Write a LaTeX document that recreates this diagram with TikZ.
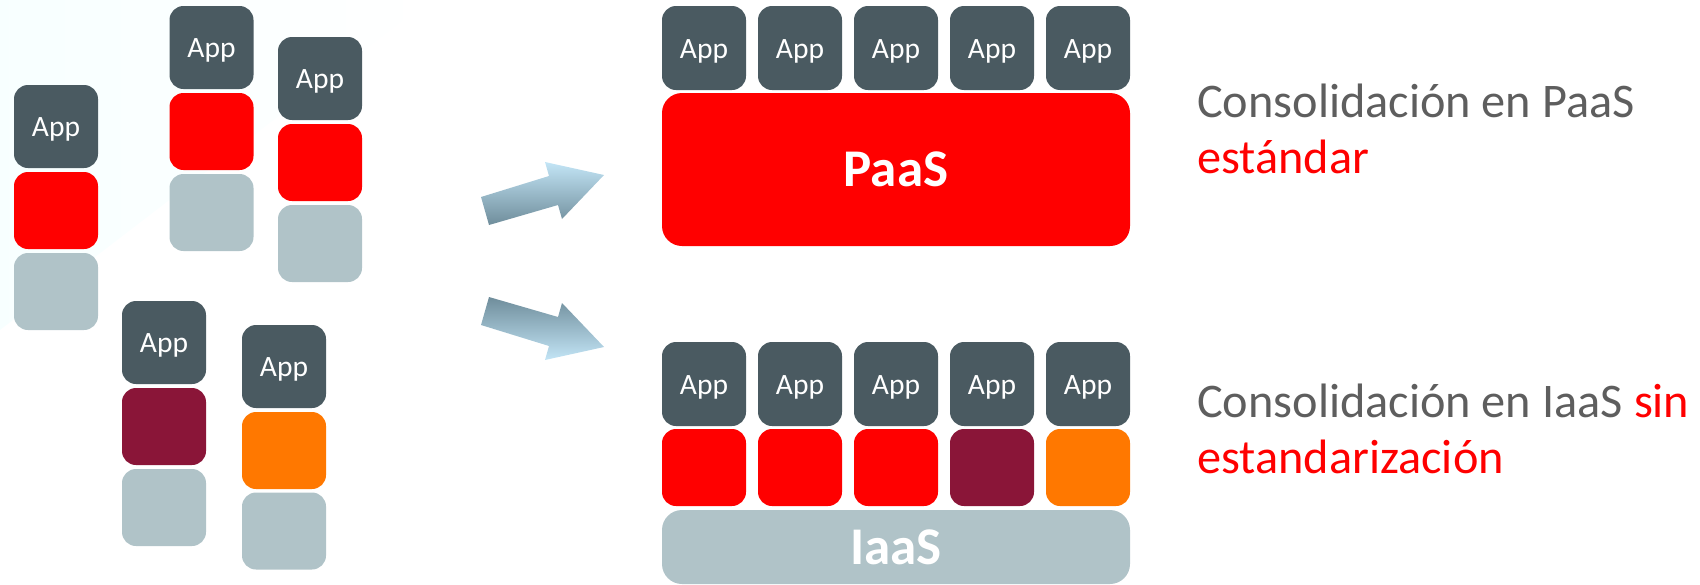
\documentclass[tikz,border=0pt]{standalone}
\usepackage{fontspec}
\setmainfont{Carlito}
\definecolor{appc}{HTML}{4A5A61}
\definecolor{redc}{HTML}{FF0000}
\definecolor{greyc}{HTML}{B0C3C8}
\definecolor{maroonc}{HTML}{8A1538}
\definecolor{orangec}{HTML}{FF7800}
\definecolor{txtc}{HTML}{5E5E5E}
\definecolor{arrlight}{HTML}{C3E5F6}
\definecolor{arrdark}{HTML}{6F8D9B}
\begin{document}
\begin{tikzpicture}[x=1pt,y=-1pt,
  box/.style={rectangle, rounded corners=14pt, inner sep=0pt, outer sep=0pt, minimum width=84pt},
  appbox/.style={box, fill=appc, text=white, font=\fontsize{29.5}{31}\selectfont, text height=20pt, text depth=0pt, minimum height=#1},
  redbox/.style={box, fill=redc, minimum height=#1},
  greybox/.style={box, fill=greyc, minimum height=#1},
  maroonbox/.style={box, fill=maroonc, minimum height=#1},
  orangebox/.style={box, fill=orangec, minimum height=#1},
  platform/.style={rectangle, rounded corners=20pt, inner sep=0pt, outer sep=0pt, minimum width=468pt, font=\bfseries\fontsize{53}{56}\selectfont},
  caption/.style={anchor=base west, inner sep=0pt, text=txtc, font=\fontsize{48.3}{52}\selectfont}
]
\useasboundingbox (0,0) rectangle (1700,584);
% faint background tint
\shade[left color=blue!4!cyan!3, right color=white] (0,0) -- (430,0) -- (0,330) -- cycle;

% stack A
\node[appbox=83] (a1) at (56,126.5) {App};
\node[redbox=77] (a2) at (56,210.5) {};
\node[greybox=77] (a3) at (56,291.5) {};
% stack B
\node[appbox=83] (b1) at (211.5,47.5) {App};
\node[redbox=77] (b2) at (211.5,131.5) {};
\node[greybox=77] (b3) at (211.5,212.5) {};
% stack C
\node[appbox=83] (c1) at (320,78.5) {App};
\node[redbox=77] (c2) at (320,162.5) {};
\node[greybox=77] (c3) at (320,243.5) {};
% stack D
\node[appbox=83] (d1) at (164,342.5) {App};
\node[maroonbox=77] (d2) at (164,426.5) {};
\node[greybox=77] (d3) at (164,507.5) {};
% stack E
\node[appbox=83] (e1) at (284,366.5) {App};
\node[orangebox=77] (e2) at (284,450.5) {};
\node[greybox=77] (e3) at (284,531) {};

% arrows
\shade[top color=arrlight, bottom color=arrdark]
  (481,197) -- (549,176) -- (545,162) -- (604,175) -- (562,219) -- (558,205) -- (489,225) -- cycle;
\shade[top color=arrdark, bottom color=arrlight]
  (489,297) -- (558,317) -- (562,303) -- (604,347) -- (545,360) -- (549,346) -- (481,325) -- cycle;

% PaaS consolidation
\foreach \i/\x in {1/704,2/800,3/896,4/992,5/1088}{
  \node[appbox=84] (p\i) at (\x,48) {App};
}
\node[platform, fill=redc, text=white, minimum height=153pt] (paas) at (896,169.5) {PaaS};

% IaaS consolidation
\foreach \i/\x in {1/704,2/800,3/896,4/992,5/1088}{
  \node[appbox=84] (q\i) at (\x,384) {App};
}
\node[redbox=77] (m1) at (704,467.5) {};
\node[redbox=77] (m2) at (800,467.5) {};
\node[redbox=77] (m3) at (896,467.5) {};
\node[maroonbox=77] (m4) at (992,467.5) {};
\node[orangebox=77] (m5) at (1088,467.5) {};
\node[platform, fill=greyc, text=white, minimum height=74pt] (iaas) at (896,547) {IaaS};

% captions
\node[caption] (t1) at (1197,117) {Consolidación en PaaS};
\node[caption, text=redc] (t2) at (1197,173) {estándar};
\node[caption] (t3) at (1197,417) {Consolidación en IaaS \textcolor{redc}{sin}};
\node[caption, text=redc] (t4) at (1197,473) {estandarización};
\end{tikzpicture}
\end{document}
